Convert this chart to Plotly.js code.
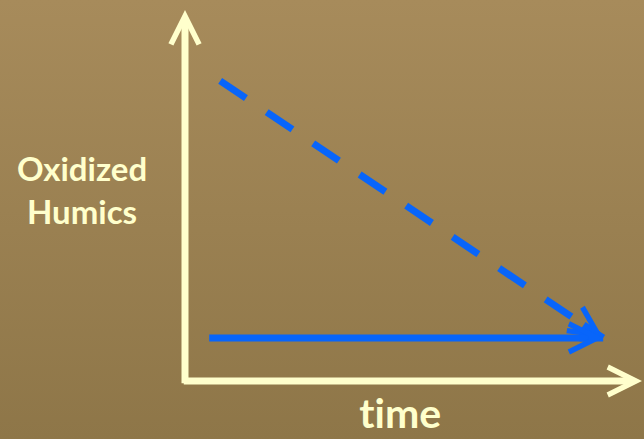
<!DOCTYPE html>
<html><head><meta charset="utf-8">
<script src="https://cdn.plot.ly/plotly-3.0.1.min.js"></script>
<style>
html,body{margin:0;padding:0;width:644px;height:439px;overflow:hidden;
background:linear-gradient(to bottom,#a78b5b 0%,#8e7648 100%);}
#chart{width:644px;height:439px;}
#chart text{font-variant-ligatures:none;font-feature-settings:"liga" 0;}
</style></head><body><div id="chart"></div>
<script>
// Concept sketch in arbitrary units: time 0–100, oxidized humics 0–100
const timeAxis = [0, 100];
const humicsAxis = [0, 100];
const dashedTime = [7.7, 91.5];
const dashedHumics = [80.9, 11.6];
const solidTime = [5.3, 91.5];
const solidHumics = [11.6, 11.6];
const yLabel = 'Oxidized<br>Humics';
const xLabel = 'time';

const cream = '#ffffcc';
const blue = '#0865fa';
const font = 'Lato, "Open Sans", sans-serif';

const traces = [
  {x: dashedTime, y: dashedHumics, mode: 'lines', hoverinfo: 'skip',
   line: {color: blue, width: 7, dash: '31px,25px'}},
  {x: solidTime, y: solidHumics, mode: 'lines', hoverinfo: 'skip',
   line: {color: blue, width: 7}}
];

const arrowBase = {text: '', showarrow: true, arrowhead: 5, arrowsize: 0.79,
  arrowwidth: 7, standoff: 0};
const annotations = [
  // y axis
  Object.assign({}, arrowBase, {xref: 'x', yref: 'y', axref: 'x', ayref: 'y',
    x: timeAxis[0], y: humicsAxis[1], ax: timeAxis[0], ay: humicsAxis[0] - 1,
    arrowcolor: cream}),
  // x axis
  Object.assign({}, arrowBase, {xref: 'x', yref: 'y', axref: 'x', ayref: 'y',
    x: timeAxis[1], y: humicsAxis[0], ax: timeAxis[0] - 0.6, ay: humicsAxis[0],
    arrowcolor: cream}),
  // dashed arrow head
  Object.assign({}, arrowBase, {xref: 'x', yref: 'y',
    x: dashedTime[1], y: dashedHumics[1], ax: -21, ay: -14, arrowcolor: blue}),
  // solid arrow head
  Object.assign({}, arrowBase, {xref: 'x', yref: 'y',
    x: solidTime[1], y: solidHumics[1], ax: -25, ay: 0, arrowcolor: blue}),
  {xref: 'paper', yref: 'paper', x: -0.2254, y: 0.515, xanchor: 'center', yanchor: 'middle',
   showarrow: false, text: '<b>' + yLabel.replace('<br>', '</b><br><b>') + '</b>',
   font: {family: font, size: 33, color: cream}},
  {xref: 'paper', yref: 'paper', x: 0.4705, y: -0.0836, xanchor: 'center', yanchor: 'middle',
   showarrow: false, text: '<b>' + xLabel + '</b>',
   font: {family: font, size: 41, color: cream}}
];

const layout = {
  width: 644, height: 439,
  margin: {l: 185, r: 2, t: 10, b: 58},
  paper_bgcolor: 'rgba(0,0,0,0)', plot_bgcolor: 'rgba(0,0,0,0)',
  showlegend: false,
  xaxis: {range: timeAxis, visible: false, fixedrange: true},
  yaxis: {range: humicsAxis, visible: false, fixedrange: true},
  annotations: annotations
};

Plotly.newPlot('chart', traces, layout, {staticPlot: true, displayModeBar: false});
</script></body></html>
